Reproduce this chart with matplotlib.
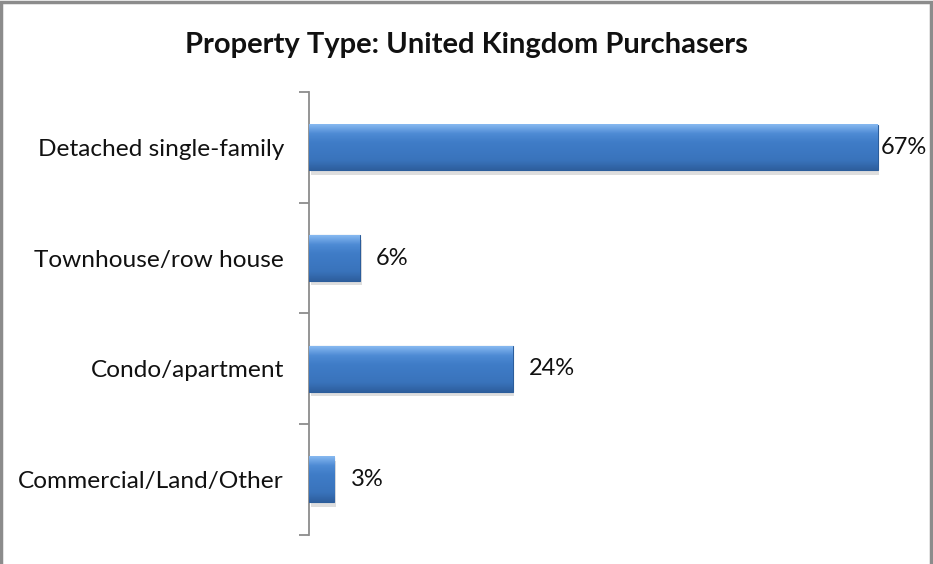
import numpy as np
import matplotlib
matplotlib.use('Agg')
import matplotlib.pyplot as plt
from matplotlib.patches import Rectangle

# Data (top to bottom)
categories = ["Detached single-family", "Townhouse/row house", "Condo/apartment", "Commercial/Land/Other"]
shares = [0.67, 0.06, 0.24, 0.03]
value_labels = ["67%", "6%", "24%", "3%"]

plt.rcParams['font.family'] = ['Lato', 'DejaVu Sans']

fig = plt.figure(figsize=(9.33, 5.64), dpi=100)
ax = fig.add_axes([0.3312, 0.0514, 0.6366, 0.7855])

y = np.arange(len(categories))
bars = ax.barh(y, shares, height=0.41, color="#3C78C3", edgecolor="#2B5D9B",
               linewidth=0.8, zorder=3)

# gradient + shadow for a glossy look
grad = np.linspace(0, 1, 64).reshape(-1, 1)
cmap = matplotlib.colors.LinearSegmentedColormap.from_list(
    "g", ["#86B8F0", "#4E8BD4", "#3F7CC7", "#3C78C2", "#3973BB", "#2E5F9E"])
for b in bars:
    x0, y0 = b.get_x(), b.get_y()
    w, h = b.get_width(), b.get_height()
    ax.add_patch(Rectangle((x0 + 0.002, y0 + 0.04), w, h, color="#C8C8C8",
                           alpha=0.6, zorder=2, lw=0))
    ax.imshow(grad, aspect="auto", cmap=cmap, extent=(x0, x0 + w, y0 + h, y0),
              zorder=3.5, origin="upper")

for b, lab in zip(bars, value_labels):
    end = b.get_width()
    off = 0.019 if end + 0.07 < 0.7 else 0.004
    ax.text(end + off, b.get_y() + b.get_height() / 2, lab,
            va="center", ha="left", fontsize=17, color="#111111", zorder=5)

ax.set_xlim(0, 0.7)
ax.set_ylim(len(categories) - 0.5, -0.5)
ax.set_yticks(y)
ax.set_yticklabels(categories, fontsize=17.6, color="#111111")
ax.set_yticks(np.arange(-0.5, len(categories)), minor=True)
ax.tick_params(axis="y", which="major", length=0, pad=18)
ax.tick_params(axis="y", which="minor", length=7, color="#8C8C8C", width=1.3)
ax.set_xticks([])
for side in ["top", "right", "bottom"]:
    ax.spines[side].set_visible(False)
ax.spines["left"].set_color("#8C8C8C")
ax.spines["left"].set_linewidth(1.3)

fig.text(0.5, 0.92, "Property Type: United Kingdom Purchasers", ha="center",
         va="center", fontsize=21, fontweight="bold", color="#111111")

# outer chart border
fig.add_artist(Rectangle((0.001, -0.01), 0.997, 1.007, transform=fig.transFigure,
                         fill=False, edgecolor="#8C8C8C", linewidth=2.5))

fig.savefig("out.png", dpi=100)
